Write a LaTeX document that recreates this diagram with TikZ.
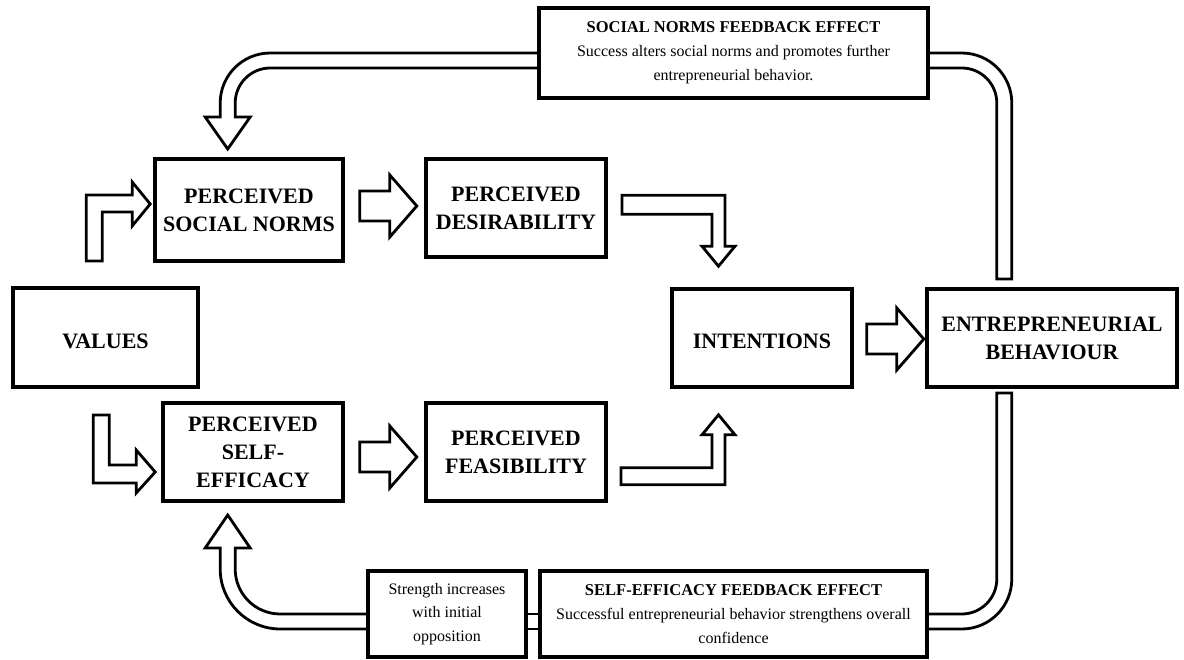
\documentclass[tikz,border=0pt]{standalone}
\usepackage{fontspec}
\setmainfont{Liberation Serif}
\usetikzlibrary{calc}
\pgfdeclarelayer{background}
\pgfsetlayers{background,main}
\newcommand\blkright[1]{\begin{scope}[shift={(#1)}]\draw[blk] (0,-15) -- (30,-15) -- (30,-31) -- (57,0) -- (30,31) -- (30,15) -- (0,15) -- cycle;\end{scope}}
\begin{document}
\begin{tikzpicture}[x=1pt,y=-1pt,
  box/.style={draw, line width=3.6pt, fill=white, inner sep=2pt, align=center, font=\fontsize{22}{28}\selectfont\bfseries, execute at begin node={\rule{0pt}{22pt}}},
  note/.style={draw, line width=3.6pt, fill=white, inner sep=2pt, align=center, font=\fontsize{16}{23.8}\selectfont},
  blk/.style={draw, line width=2.8pt, fill=white, line join=miter},
  dbl/.style={line width=2.8pt}]
\useasboundingbox (0,0) rectangle (1184,659);

% main nodes
\node[box, minimum width=185pt, minimum height=99pt] (values) at (105.5,337.5) {VALUES};
\node[box, minimum width=188pt, minimum height=102pt] (psn) at (249,210) {PERCEIVED\\SOCIAL NORMS};
\node[box, minimum width=180pt, minimum height=98pt] (pd) at (516,208) {PERCEIVED\\DESIRABILITY};
\node[box, minimum width=180pt, minimum height=98pt] (pse) at (253,452) {PERCEIVED\\SELF-\\EFFICACY};
\node[box, minimum width=180pt, minimum height=98pt] (pf) at (516,452) {PERCEIVED\\FEASIBILITY};
\node[box, minimum width=180pt, minimum height=98pt] (int) at (762,338) {INTENTIONS};
\node[box, minimum width=250pt, minimum height=98pt] (eb) at (1052,338) {ENTREPRENEURIAL\\BEHAVIOUR};

% feedback boxes
\node[note, minimum width=389pt, minimum height=90pt] (snfe) at (733.5,53) {\fontsize{16.5}{23.8}\selectfont\textbf{SOCIAL NORMS FEEDBACK EFFECT}\\Success alters social norms and promotes further\\entrepreneurial behavior.};
\node[note, minimum width=158pt, minimum height=86pt] (str) at (447,614) {Strength increases\\with initial\\opposition};
\node[note, minimum width=387pt, minimum height=86pt] (sefe) at (733.5,614) {\fontsize{16.5}{23.8}\selectfont\textbf{SELF-EFFICACY FEEDBACK EFFECT}\\Successful entrepreneurial behavior strengthens overall\\confidence};

% straight block arrows
\blkright{$(psn.east)+(15,-4)$}
\blkright{$(pse.east)+(15,5)$}
\blkright{$(int.east)+(13,1)$}

% values -> psn
\begin{scope}[shift={(psn.west)}]
\draw[blk] (-67,51) -- (-67,-15) -- (-21,-15) -- (-21,-28) -- (-3,-6) -- (-21,16) -- (-21,2) -- (-51,2) -- (-51,51) -- cycle;
\end{scope}
% values -> pse
\begin{scope}[shift={(pse.west)}]
\draw[blk] (-68,-37) -- (-68,31) -- (-25,31) -- (-25,41) -- (-6,20) -- (-25,-2) -- (-25,13) -- (-52,13) -- (-52,-37) -- cycle;
\end{scope}
% pd -> int
\begin{scope}[shift={(int.north)}]
\draw[blk] (-140,-92) -- (-37,-92) -- (-37,-41) -- (-27,-41) -- (-43.5,-21) -- (-60,-41) -- (-50,-41) -- (-50,-73) -- (-140,-73) -- cycle;
\end{scope}
% pf -> int
\begin{scope}[shift={(int.south)}]
\draw[blk] (-141,96) -- (-37,96) -- (-37,46) -- (-27,46) -- (-43.5,26) -- (-60,46) -- (-50,46) -- (-50,79) -- (-141,79) -- cycle;
\end{scope}

% feedback arrows, behind the boxes
\begin{pgfonlayer}{background}
% snfe -> psn
\begin{scope}[shift={(snfe.west)}]
\draw[blk] (2,0) -- (-267,0) .. controls (-294.6,0) and (-317,22.4) .. (-317,50) -- (-317,64) -- (-332,64) -- (-309.5,96) -- (-287,64) -- (-302,64) -- (-302,50) .. controls (-302,30.7) and (-286.3,15) .. (-267,15) -- (2,15) -- cycle;
\end{scope}
% eb -> snfe
\begin{scope}[shift={(snfe.east)}]
\draw[blk] (-2,0) -- (32,0) .. controls (59.6,0) and (82,22.4) .. (82,50) -- (82,226) -- (67,226) -- (67,50) .. controls (67,30.7) and (51.3,15) .. (32,15) -- (-2,15) -- cycle;
\end{scope}
% eb -> sefe
\begin{scope}[shift={(sefe.east)}]
\draw[blk] (68,-221) -- (83,-221) -- (83,-35) .. controls (83,-7.4) and (60.6,15) .. (33,15) -- (-2,15) -- (-2,0) -- (33,0) .. controls (52.3,0) and (68,-15.7) .. (68,-35) -- cycle;
\end{scope}
% str -> pse
\begin{scope}[shift={(str.west)}]
\draw[blk] (2,15) -- (-86,15) .. controls (-119.1,15) and (-146,-11.9) .. (-146,-45) -- (-146,-66) -- (-161,-66) -- (-138.5,-99) -- (-116,-66) -- (-131,-66) -- (-131,-45) .. controls (-131,-20.1) and (-110.9,0) .. (-86,0) -- (2,0) -- cycle;
\end{scope}
% str -- sefe
\draw[dbl] (str.east) -- (sefe.west);
\draw[dbl] ($(str.east)+(0,15)$) -- ($(sefe.west)+(0,15)$);
\end{pgfonlayer}
\end{tikzpicture}
\end{document}
